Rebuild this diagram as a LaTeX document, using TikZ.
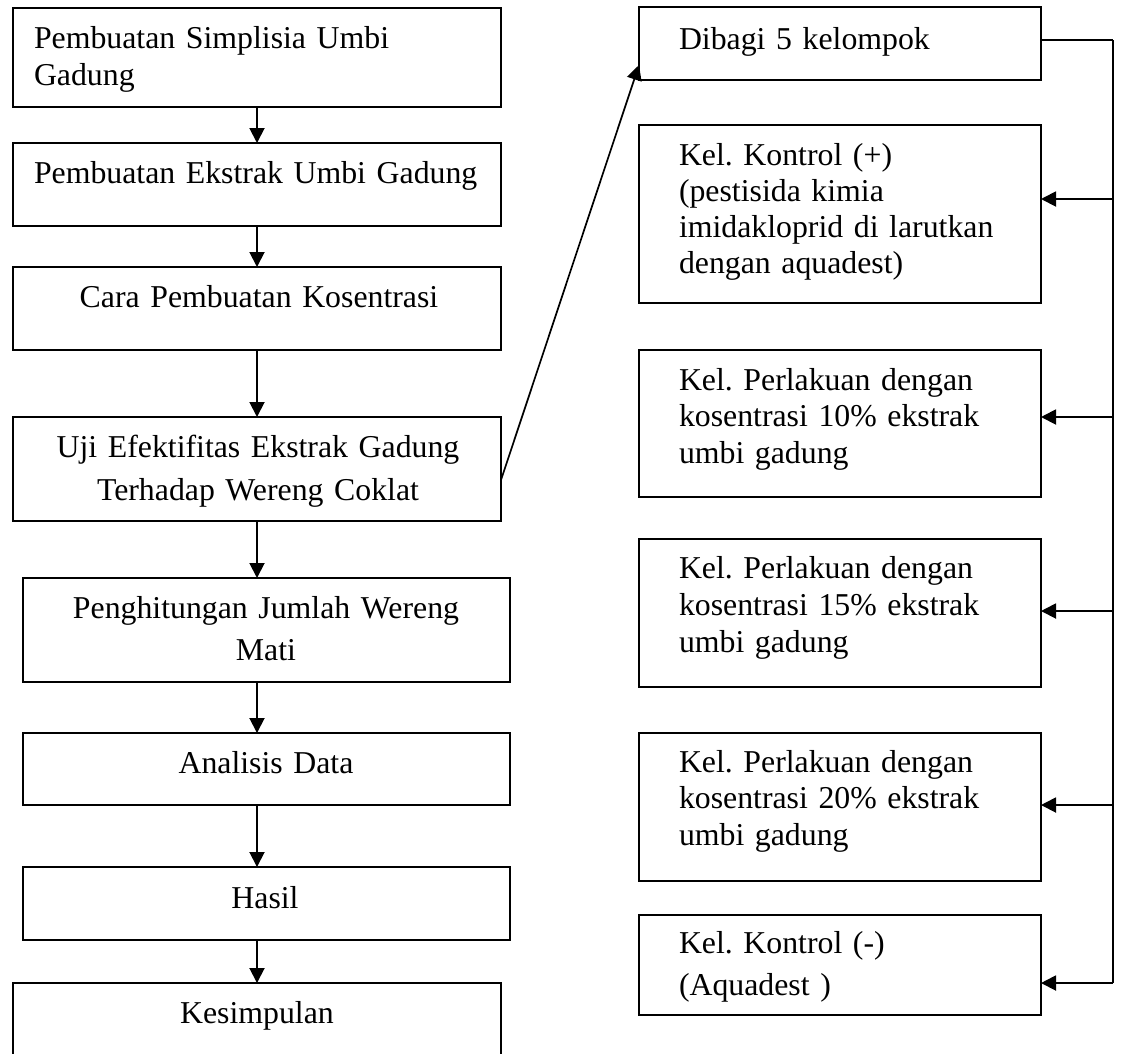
\documentclass[tikz,border=0pt]{standalone}
\usepackage{fontspec}
\setmainfont{Liberation Serif}
\frenchspacing
\usetikzlibrary{arrows.meta}
\tikzset{
  box/.style={draw, line width=1.8pt, inner sep=0pt, outer sep=0pt, anchor=north west},
  lbl/.style={inner sep=0pt, outer sep=0pt, text width=#1},
  fs/.style={font=\fontsize{31.8}{#1}\selectfont},
  arr/.style={line width=1.9pt, -{Triangle[length=15pt,width=15pt]}},
}
\begin{document}
\begin{tikzpicture}[x=1pt,y=-1pt]
\useasboundingbox (0,0) rectangle (1121,1053);
\clip (0,0) rectangle (1121,1053);
% left column boxes
\node[box, minimum width=488pt, minimum height=99pt]  (b1) at (13,8) {};
\node[box, minimum width=488pt, minimum height=83pt]  (b2) at (13,143) {};
\node[box, minimum width=488pt, minimum height=83pt]  (b3) at (13,267) {};
\node[box, minimum width=488pt, minimum height=104pt] (b4) at (13,417) {};
\node[box, minimum width=487pt, minimum height=104pt] (b5) at (23,578) {};
\node[box, minimum width=487pt, minimum height=72pt]  (b6) at (23,733) {};
\node[box, minimum width=487pt, minimum height=73pt]  (b7) at (23,867) {};
\node[box, minimum width=488pt, minimum height=100pt] (b8) at (13,983) {};
% left texts
\node[lbl=460pt, fs=37pt, align=left, anchor=base west] (t1) at (34,48) {Pembuatan Simplisia Umbi\\Gadung};
\node[lbl=460pt, fs=37pt, align=left, anchor=base west] (t2) at (34,183) {Pembuatan Ekstrak Umbi Gadung};
\node[lbl=480pt, fs=37pt, align=center, anchor=base] (t3) at (259,307) {Cara Pembuatan Kosentrasi};
\node[lbl=480pt, fs=43pt, align=center, anchor=base] (t4) at (258,457) {Uji Efektifitas Ekstrak Gadung\\Terhadap Wereng Coklat};
\node[lbl=480pt, fs=42pt, align=center, anchor=base] (t5) at (266,618) {Penghitungan Jumlah Wereng\\Mati};
\node[lbl=480pt, fs=37pt, align=center, anchor=base] (t6) at (266,773) {Analisis Data};
\node[lbl=480pt, fs=37pt, align=center, anchor=base] (t7) at (265,908) {Hasil};
\node[lbl=480pt, fs=37pt, align=center, anchor=base] (t8) at (257,1023) {Kesimpulan};
% right column boxes
\node[box, minimum width=402pt, minimum height=73pt]  (r0) at (639,7) {};
\node[box, minimum width=402pt, minimum height=178pt] (r1) at (639,125) {};
\node[box, minimum width=402pt, minimum height=147pt] (r2) at (639,350) {};
\node[box, minimum width=402pt, minimum height=148pt] (r3) at (639,539) {};
\node[box, minimum width=402pt, minimum height=148pt] (r4) at (639,733) {};
\node[box, minimum width=402pt, minimum height=100pt] (r5) at (639,915) {};
% right texts
\node[lbl=355pt, fs=37pt, align=left, anchor=base west] (s0) at (679,49) {Dibagi 5 kelompok};
\node[lbl=355pt, fs=36pt, align=left, anchor=base west] (s1) at (679,165) {Kel. Kontrol (+)\\(pestisida kimia\\imidakloprid di larutkan\\dengan aquadest)};
\node[lbl=355pt, fs=36.5pt, align=left, anchor=base west] (s2) at (679,390) {Kel. Perlakuan dengan\\kosentrasi 10\% ekstrak\\umbi gadung};
\node[lbl=355pt, fs=37pt, align=left, anchor=base west] (s3) at (679,578) {Kel. Perlakuan dengan\\kosentrasi 15\% ekstrak\\umbi gadung};
\node[lbl=355pt, fs=36.5pt, align=left, anchor=base west] (s4) at (679,772) {Kel. Perlakuan dengan\\kosentrasi 20\% ekstrak\\umbi gadung};
\node[lbl=355pt, fs=42pt, align=left, anchor=base west] (s5) at (679,953) {Kel. Kontrol (-)\\(Aquadest )};
% left connectors
\draw[arr] (b1.south) -- (b2.north);
\draw[arr] (b2.south) -- (b3.north);
\draw[arr] (b3.south) -- (b4.north);
\draw[arr] (b4.south) -- (b4.south |- b5.north);
\draw[arr] (b4.south |- b5.south) -- (b4.south |- b6.north);
\draw[arr] (b4.south |- b6.south) -- (b4.south |- b7.north);
\draw[arr] (b4.south |- b7.south) -- (b8.north);
% diagonal connector
\coordinate (d1) at (501,480);
\coordinate (d2) at (639,65);
\draw[arr, line width=1.7pt] (b4.east |- d1) -- (r0.west |- d2);
% right bus
\coordinate (bt) at (1113,40);
\coordinate (bb) at (1113,983);
\draw[line width=1.3pt] (r0.east |- bt) -- (bt);
\draw[line width=1.9pt] (bt) -- (bb);
\coordinate (k1) at (1113,199);
\coordinate (k2) at (1113,417);
\coordinate (k3) at (1113,611);
\coordinate (k4) at (1113,805);
\draw[arr] (k1) -- (r1.east |- k1);
\draw[arr] (k2) -- (r2.east |- k2);
\draw[arr] (k3) -- (r3.east |- k3);
\draw[arr] (k4) -- (r4.east |- k4);
\draw[arr] (bb) -- (r5.east |- bb);
\end{tikzpicture}
\end{document}
